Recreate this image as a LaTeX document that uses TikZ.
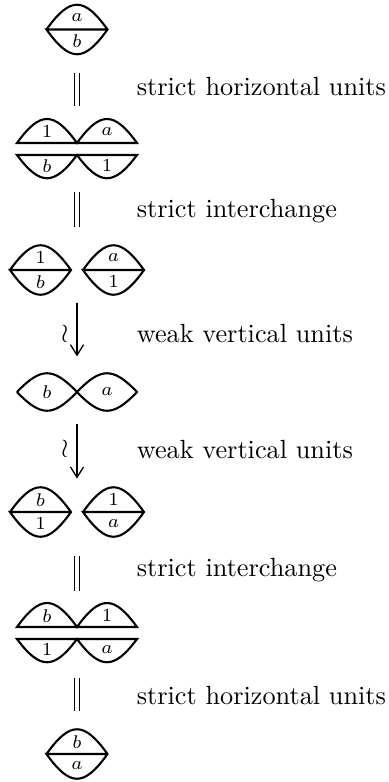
\documentclass[tikz,border=0pt]{standalone}
\usepackage{amsmath}
\usetikzlibrary{arrows.meta}

\tikzset{
	cell/.style={thick},
	lbl/.style={font=\scriptsize,inner sep=0pt},
	txt/.style={inner sep=0pt},
	diag/.style={inner sep=0pt,minimum width=0pt},
	eq/.style={double,double distance=1.4pt,line width=0.5pt},
	iso/.style={-{Straight Barb[length=4pt,width=5pt]},line width=0.5pt},
	wrlbl/.style={inner sep=0pt,font=\normalsize},
	pics/lens/.style 2 args={code={
		\draw[cell] (-30.5,0) .. controls (-7,-33) and (7,-33) .. (30.5,0) .. controls (7,33) and (-7,33) .. (-30.5,0) -- (30.5,0);
		\node[lbl] (-up) at (0,-12) {$#1$};
		\node[lbl] (-dn) at (0,12) {$#2$};
	}},
	pics/bumps/.style n args={4}{code={
		\draw[cell] (-60,-6) .. controls (-37,-38) and (-23,-38) .. (0,-6) .. controls (23,-38) and (37,-38) .. (60,-6) -- cycle;
		\draw[cell] (-60,6) .. controls (-37,37) and (-23,37) .. (0,6) .. controls (23,37) and (37,37) .. (60,6) -- cycle;
		\node[lbl] (-nw) at (-30,-17) {$#1$};
		\node[lbl] (-ne) at (30,-17) {$#2$};
		\node[lbl] (-sw) at (-30,17) {$#3$};
		\node[lbl] (-se) at (30,17) {$#4$};
	}},
	pics/twist/.style 2 args={code={
		\draw[cell] (-60,0) .. controls (-36,-25) and (-24,-25) .. (0,0) .. controls (24,25) and (36,25) .. (60,0) .. controls (36,-25) and (24,-25) .. (0,0) .. controls (-24,25) and (-36,25) .. (-60,0);
		\node[lbl] (-l) at (-30,0) {$#1$};
		\node[lbl] (-r) at (30,0) {$#2$};
	}}
}

\begin{document}
\begin{tikzpicture}[x=0.3807pt,y=-0.3807pt]
	\useasboundingbox (0,0) rectangle (389,782);
	
	\node[diag,minimum height=19.4pt] (d1) at (77,29.5) {};
	\node[diag,minimum height=22.5pt] (d2) at (77,148.5) {};
	\node[diag,minimum height=19pt] (d3) at (77,270) {};
	\node[diag,minimum height=14.5pt] (d4) at (77,392) {};
	\node[diag,minimum height=19pt] (d5) at (77,512) {};
	\node[diag,minimum height=22.1pt] (d6) at (77,633) {};
	\node[diag,minimum height=19pt] (d7) at (77,754) {};
	
	\pic (p1) at (77,29.5) {lens={a}{b}};
	\pic (p2) at (77,149) {bumps={1}{a}{b}{1}};
	\pic (p3l) at (40.5,270) {lens={1}{b}};
	\pic (p3r) at (113.5,270) {lens={a}{1}};
	\pic (p4) at (77,392) {twist={b}{a}};
	\pic (p5l) at (40.5,512) {lens={b}{1}};
	\pic (p5r) at (113.5,512) {lens={1}{a}};
	\pic (p6) at (77,633) {bumps={b}{1}{1}{a}};
	\pic (p7) at (77,754) {lens={b}{a}};
	
	\draw[eq,shorten <=6.5pt,shorten >=4.6pt] (d1) -- (d2) node[midway,right=22.5pt,txt] (t1) {strict horizontal units};
	\draw[eq,shorten <=5.3pt,shorten >=6.5pt] (d2) -- (d3) node[midway,right=22.5pt,txt] (t2) {strict interchange};
	\draw[iso,shorten <=2.7pt,shorten >=6.1pt] (d3) -- (d4) node[midway,left=3pt,wrlbl] (w1) {$\wr$} node[midway,right=22.5pt,txt] (t3) {weak vertical units};
	\draw[iso,shorten <=4.6pt,shorten >=3pt] (d4) -- (d5) node[midway,left=3pt,wrlbl] (w2) {$\wr$} node[midway,right=22.5pt,txt] (t4) {weak vertical units};
	\draw[eq,shorten <=6.9pt,shorten >=4.6pt] (d5) -- (d6) node[midway,right=22.5pt,txt] (t5) {strict interchange};
	\draw[eq,shorten <=5.7pt,shorten >=6.5pt] (d6) -- (d7) node[midway,right=22.5pt,txt] (t6) {strict horizontal units};
\end{tikzpicture}
\end{document}
